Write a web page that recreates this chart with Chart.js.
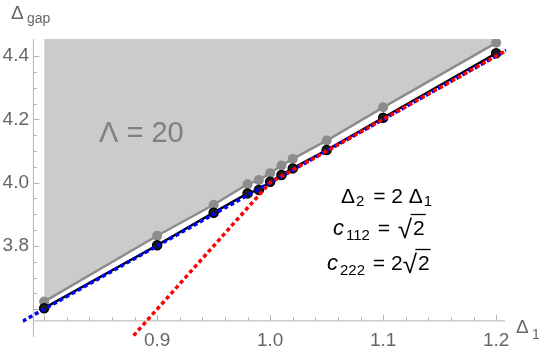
<!DOCTYPE html>
<html>
<head>
<meta charset="utf-8">
<script src="https://cdn.jsdelivr.net/npm/chart.js@4.4.0/dist/chart.umd.min.js"></script>
<style>
  body { margin: 0; background: #fff; }
  canvas { display: block; }
</style>
</head>
<body>
<canvas id="chart" width="545" height="354"></canvas>
<script>
// delta_1 values where the gap was computed
var delta1 = [0.8, 0.9, 0.95, 0.98, 0.99, 1.0, 1.01, 1.02, 1.05, 1.1, 1.2];
// upper (gray) and lower (black) gap estimates
var gapUpper = [3.624, 3.832, 3.930, 3.995, 4.008, 4.030, 4.054, 4.075, 4.133, 4.238, 4.442];
var gapLower = [3.603, 3.802, 3.905, 3.966, 3.977, 4.003, 4.024, 4.045, 4.103, 4.205, 4.409];
// reference lines
var blueX = [0.781, 1.209];
var blueY = [3.562, 4.418];
var redX = [0.875, 1.0, 1.209];
var redY = [3.5, 4.0, 4.418];
// ticks
var xTicks = [0.9, 1.0, 1.1, 1.2];
var yTicks = [3.8, 4.0, 4.2, 4.4];

var FONT = "'Liberation Sans', Arial, sans-serif";

function toPoints(xs, ys) {
  return xs.map(function (x, i) { return { x: x, y: ys[i] }; });
}

var axesPlugin = {
  id: "mmaAxes",
  beforeDatasetsDraw: function (chart) {
    var ctx = chart.ctx;
    var xs = chart.scales.x, ys = chart.scales.y;
    var x0 = xs.getPixelForValue(0.7905);
    var y0 = ys.getPixelForValue(3.563);
    ctx.save();
    ctx.strokeStyle = "#b3b3b3";
    ctx.lineWidth = 1;
    ctx.beginPath();
    ctx.moveTo(x0, ys.getPixelForValue(4.454));
    ctx.lineTo(x0, ys.getPixelForValue(3.512));
    ctx.moveTo(x0, y0);
    ctx.lineTo(xs.getPixelForValue(1.208), y0);
    // x ticks, minor every 0.02
    for (var i = 40; i <= 60; i++) {
      var v = i / 50;
      var px = Math.round(xs.getPixelForValue(v)) + 0.5;
      var len = (i % 5 === 0) ? 6 : 3.5;
      ctx.moveTo(px, y0);
      ctx.lineTo(px, y0 - len);
    }
    // y ticks, minor every 0.05
    for (var j = 72; j <= 88; j++) {
      var w = j / 20;
      var py = Math.round(ys.getPixelForValue(w)) + 0.5;
      var l2 = (j % 4 === 0) ? 6 : 3.5;
      ctx.moveTo(x0, py);
      ctx.lineTo(x0 + l2, py);
    }
    ctx.stroke();

    ctx.fillStyle = "#666";
    ctx.font = "19px " + FONT;
    ctx.textAlign = "center";
    ctx.textBaseline = "top";
    xTicks.forEach(function (t) {
      ctx.fillText(t.toFixed(1), xs.getPixelForValue(t), 331);
    });
    ctx.textAlign = "right";
    ctx.textBaseline = "middle";
    yTicks.forEach(function (t) {
      ctx.fillText(t.toFixed(1), 29, ys.getPixelForValue(t));
    });

    // axis labels
    ctx.textAlign = "left";
    ctx.textBaseline = "alphabetic";
    ctx.font = "19px " + FONT;
    ctx.fillText("\u0394", 11, 19);
    ctx.font = "14px " + FONT;
    ctx.fillText("gap", 27, 23);
    ctx.font = "19px " + FONT;
    ctx.fillText("\u0394", 516, 333);
    ctx.font = "14px " + FONT;
    ctx.fillText("1", 532, 339);
    ctx.restore();
  },
  afterDatasetsDraw: function (chart) {
    var ctx = chart.ctx;
    ctx.save();
    ctx.textAlign = "left";
    ctx.textBaseline = "alphabetic";

    // Lambda label on the shaded region
    ctx.fillStyle = "#808080";
    ctx.font = "29px " + FONT;
    ctx.fillText("\u039b = 20", 99, 142);

    ctx.fillStyle = "#000";
    var big = "21px " + FONT, small = "15px " + FONT, ital = "italic 22px " + FONT;

    function put(txt, font, x, y) {
      ctx.font = font;
      ctx.fillText(txt, x, y);
      return x + ctx.measureText(txt).width;
    }
    function sqrt2(x, y) {
      ctx.font = "26px " + FONT;
      ctx.fillText("\u221a", x, y + 3);
      var sw = ctx.measureText("\u221a").width;
      ctx.font = big;
      var tw = ctx.measureText("2").width;
      ctx.fillText("2", x + sw + 1, y);
      ctx.beginPath();
      ctx.lineWidth = 1.3;
      ctx.strokeStyle = "#000";
      ctx.moveTo(x + sw - 1.5, y - 20.5);
      ctx.lineTo(x + sw + tw + 2, y - 20.5);
      ctx.stroke();
    }

    // line 1
    var x = put("\u0394", big, 341, 202.5);
    x = put("2", small, x + 1, 206);
    x = put(" = 2 \u0394", big, x + 3, 202.5);
    put("1", small, x + 1, 206);
    // line 2
    x = put("c", ital, 333, 235);
    x = put("112", small, x + 2, 239.5);
    x = put(" = ", big, x + 2, 235);
    sqrt2(x + 2, 235);
    // line 3
    x = put("c", ital, 327, 270);
    x = put("222", small, x + 2, 274.5);
    x = put(" = 2", big, x + 2, 270);
    sqrt2(x, 270);
    ctx.restore();
  }
};

new Chart(document.getElementById("chart"), {
  type: "scatter",
  data: {
    datasets: [
      {
        label: "red",
        data: toPoints(redX, redY),
        showLine: true,
        borderColor: "#ff0000",
        borderWidth: 3.5,
        borderDash: [4, 3],
        pointRadius: 0,
        fill: false
      },
      {
        label: "blue",
        data: toPoints(blueX, blueY),
        showLine: true,
        borderColor: "#0000ff",
        borderWidth: 3.5,
        borderDash: [4, 3],
        pointRadius: 0,
        fill: false
      },
      {
        label: "lower",
        data: toPoints(delta1, gapLower),
        showLine: true,
        borderColor: "#000",
        borderWidth: 2.5,
        pointRadius: 4.5,
        pointBackgroundColor: "#1a1a1a",
        pointBorderColor: "#000",
        pointBorderWidth: 1.5,
        fill: false
      },
      {
        label: "upper",
        data: toPoints(delta1, gapUpper),
        showLine: true,
        borderColor: "#8c8c8c",
        borderWidth: 2.5,
        pointRadius: 5,
        pointBackgroundColor: "#8c8c8c",
        pointBorderWidth: 0,
        backgroundColor: "#cbcbcb",
        fill: "end"
      }
    ]
  },
  options: {
    responsive: false,
    animation: false,
    layout: { padding: { left: 22.7, top: 39, right: 38.7, bottom: 17 } },
    plugins: { legend: { display: false }, tooltip: { enabled: false } },
    scales: {
      x: { type: "linear", min: 0.781, max: 1.209, display: false },
      y: { type: "linear", min: 3.512, max: 4.454, display: false }
    }
  },
  plugins: [axesPlugin]
});
</script>
</body>
</html>
